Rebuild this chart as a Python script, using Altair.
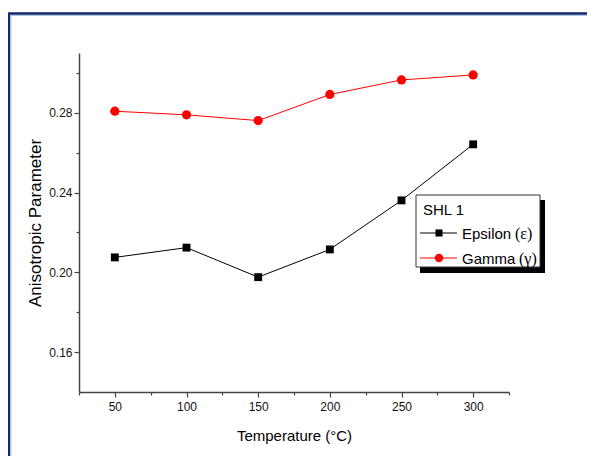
import altair as alt
import pandas as pd

temps = [50, 100, 150, 200, 250, 300]
epsilon = [0.2075, 0.2124, 0.1976, 0.2115, 0.2361, 0.2642]
gamma = [0.2808, 0.2790, 0.2761, 0.2892, 0.2965, 0.2990]
series_names = ["Epsilon", "Gamma"]
series_colors = ["#000000", "#ff0000"]
series_shapes = ["square", "circle"]
x_ticks = [25, 50, 75, 100, 125, 150, 175, 200, 225, 250, 275, 300, 325]
y_ticks = [0.16, 0.18, 0.20, 0.22, 0.24, 0.26, 0.28, 0.30]
legend_title = "SHL 1"
legend_greek = ["(ε)", "(γ)"]

SANS = "Liberation Sans, Arial, Helvetica, sans-serif"
SERIF = "Liberation Serif, Times New Roman, serif"

df = pd.DataFrame({
    "T": temps * 2,
    "v": epsilon + gamma,
    "s": [series_names[0]] * len(temps) + [series_names[1]] * len(temps),
})

x_enc = alt.X(
    "T:Q",
    scale=alt.Scale(domain=[25, 325], nice=False, zero=False),
    axis=alt.Axis(
        values=x_ticks,
        labelExpr="(round(datum.value) % 50 == 0) ? format(datum.value, 'd') : ''",
        labelOverlap=False,
        labelFlush=False,
        tickSize={"condition": {"test": "round(datum.value) % 50 == 0", "value": 5}, "value": 3},
        grid=False,
        title="Temperature (°C)",
        titleFontSize=15,
        titleFontWeight="normal",
        titleFont=SANS,
        titleColor="#000000",
        titlePadding=16,
        labelFontSize=12,
        labelFont=SANS,
        labelColor="#111111",
        labelPadding=4,
        domainColor="#444444",
        domainWidth=1.5,
        tickColor="#444444",
        tickWidth=1.2,
    ),
)
y_enc = alt.Y(
    "v:Q",
    scale=alt.Scale(domain=[0.14, 0.31], nice=False, zero=False),
    axis=alt.Axis(
        values=y_ticks,
        format=".2f",
        labelExpr="round(datum.value * 100) % 4 == 0 ? datum.label : ''",
        labelOverlap=False,
        tickSize={"condition": {"test": "round(datum.value * 100) % 4 == 0", "value": 5}, "value": 3},
        grid=False,
        title="Anisotropic Parameter",
        titleFontSize=17,
        titleFontWeight="normal",
        titleFont=SANS,
        titleColor="#000000",
        titlePadding=4,
        labelFontSize=12,
        labelFont=SANS,
        labelColor="#111111",
        labelPadding=2,
        domainColor="#444444",
        domainWidth=1.5,
        tickColor="#444444",
        tickWidth=1.2,
    ),
)
color_enc = alt.Color("s:N", scale=alt.Scale(domain=series_names, range=series_colors), legend=None)

one = alt.Data(values=[{}])

frame_outer = alt.Chart(one).mark_rect(fill=None, stroke="#0d2a6b", strokeWidth=2.5).encode(
    x=alt.value(-70), x2=alt.value(700), y=alt.value(-39.5), y2=alt.value(700)
)
frame_inner = alt.Chart(one).mark_rect(fill=None, stroke="#b4c2de", strokeWidth=1).encode(
    x=alt.value(-68), x2=alt.value(700), y=alt.value(-37.5), y2=alt.value(700)
)

lines = alt.Chart(df).mark_line(strokeWidth=1).encode(x=x_enc, y=y_enc, color=color_enc, detail="s:N")
points = alt.Chart(df).mark_point(filled=True, opacity=1).encode(
    x=x_enc,
    y=y_enc,
    color=color_enc,
    shape=alt.Shape("s:N", scale=alt.Scale(domain=series_names, range=series_shapes), legend=None),
    size=alt.Size("s:N", scale=alt.Scale(domain=series_names, range=[62, 85]), legend=None),
)

# legend (decorative box with shadow)
lg_shadow = alt.Chart(one).mark_rect(color="#000000").encode(
    x=alt.value(341), x2=alt.value(466), y=alt.value(147), y2=alt.value(220)
)
lg_box = alt.Chart(one).mark_rect(fill="#ffffff", stroke="#333333", strokeWidth=1).encode(
    x=alt.value(337), x2=alt.value(461), y=alt.value(142), y2=alt.value(214)
)
lg_title = alt.Chart(one).mark_text(align="left", baseline="alphabetic", fontSize=15, font=SANS, color="#000000").encode(
    x=alt.value(344), y=alt.value(162), text=alt.value(legend_title)
)
legend_layers = [lg_shadow, lg_box, lg_title]
row_y = [180, 205]
name_w = [49, 53]
for i, name in enumerate(series_names):
    yy = row_y[i]
    legend_layers.append(
        alt.Chart(one).mark_rule(color=series_colors[i], strokeWidth=1).encode(
            x=alt.value(341), x2=alt.value(378), y=alt.value(yy)
        )
    )
    legend_layers.append(
        alt.Chart(one).mark_point(shape=series_shapes[i], filled=True, opacity=1, color=series_colors[i],
                                  size=[50, 70][i]).encode(x=alt.value(360), y=alt.value(yy))
    )
    legend_layers.append(
        alt.Chart(one).mark_text(align="left", baseline="alphabetic", fontSize=15, font=SANS, color="#000000").encode(
            x=alt.value(383), y=alt.value(yy + 5.5), text=alt.value(name)
        )
    )
    legend_layers.append(
        alt.Chart(one).mark_text(align="left", baseline="alphabetic", fontSize=16, font=SERIF, color="#000000").encode(
            x=alt.value(383 + name_w[i] + 4), y=alt.value(yy + 5.5), text=alt.value(legend_greek[i])
        )
    )

chart = alt.layer(frame_outer, frame_inner, lines, points, *legend_layers).properties(
    width=430,
    height=339,
    autosize=alt.AutoSizeParams(type="none"),
    padding={"left": 71, "top": 45, "right": 78, "bottom": 64},
    background="#ffffff",
).configure_view(stroke=None)

chart.save("out.html", embed_options={"renderer": "svg", "actions": False})
